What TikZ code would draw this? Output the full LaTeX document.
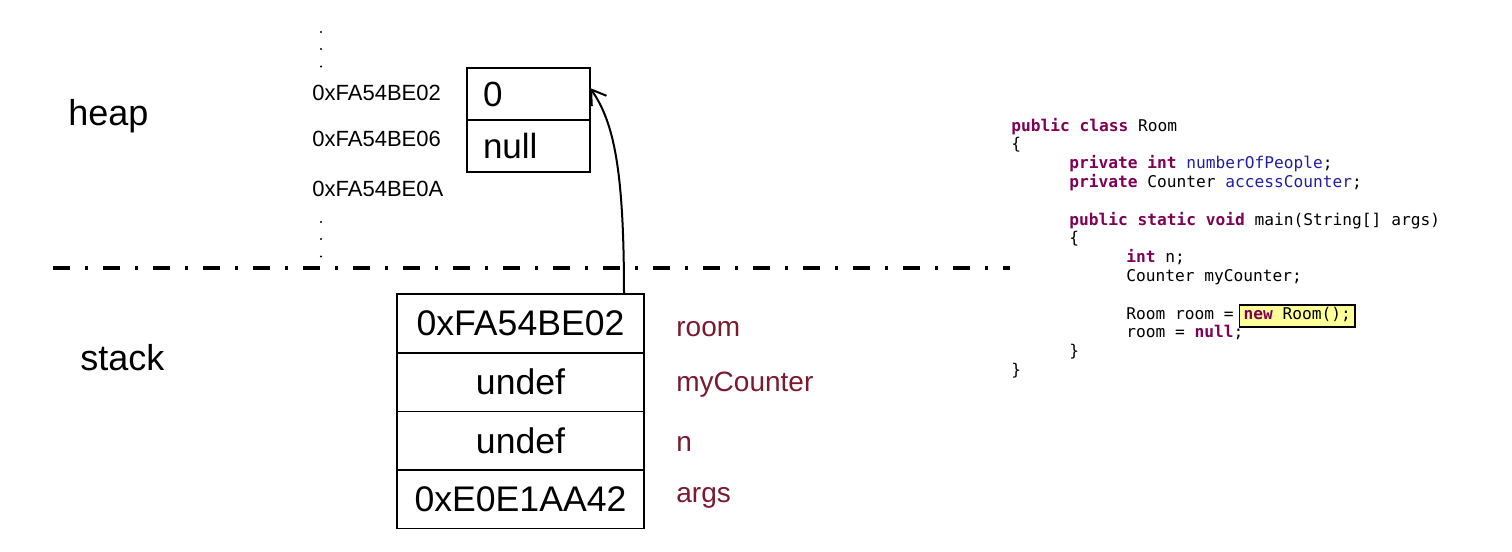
\documentclass[tikz,border=0pt]{standalone}
\usepackage{fontspec}
\setmainfont{Liberation Sans}
\setmonofont{DejaVu Sans Mono}
\usepackage{xcolor}
\usetikzlibrary{positioning,arrows.meta,calc}
\definecolor{varRed}{HTML}{7B1A2E}
\definecolor{kwPurple}{HTML}{7F0055}
\definecolor{fieldBlue}{HTML}{1F1FA0}
\definecolor{hlYellow}{HTML}{FFFF99}
\newcommand{\kw}[1]{\textcolor{kwPurple}{\bfseries #1}}
\newcommand{\fld}[1]{\textcolor{fieldBlue}{#1}}

\begin{document}
\begin{tikzpicture}[x=0.5pt, y=-0.5pt]

    % Shapes
    \tikzstyle{heapCell}=[draw, line width=.8pt, outer sep=0, minimum height=26pt, inner xsep=8pt, text width=45.5pt, align=left, font=\fontsize{17.5}{20}\selectfont]
    \tikzstyle{stackCell}=[draw, line width=.8pt, outer sep=0, minimum width=123.5pt, minimum height=29.3pt, font=\fontsize{17.8}{20}\selectfont]
    \tikzstyle{address}=[anchor=west, inner sep=0, font=\fontsize{11}{13}\selectfont]
    \tikzstyle{varName}=[anchor=west, inner sep=0, text=varRed, font=\fontsize{14}{16}\selectfont]
    \tikzstyle{area}=[anchor=west, inner sep=0, font=\fontsize{18}{20}\selectfont]
    \tikzstyle{code}=[anchor=base west, inner sep=0, font=\ttfamily\fontsize{8.1}{9.4}\selectfont]
    \tikzstyle{highlight}=[code, draw, fill=hlYellow, line width=.7pt, inner xsep=2pt, text height=7pt, text depth=4pt]

    \useasboundingbox (0,0) rectangle (1512,552);

    % Areas
    \node[area] (heapLabel) at (68,116) {heap};
    \node[area] (stackLabel) at (80,358) {stack};

    % Separator
    \coordinate (sepLeft) at (53,268);
    \coordinate (sepRight) at (1010,268);
    \draw[line width=2pt, dash pattern=on 8.5pt off 7.5pt on 1.5pt off 7.5pt] (sepLeft) -- (sepRight);

    % Heap
    \node[heapCell] at (528.5,94) (heapNum) {0};
    \node[heapCell, below=0pt of heapNum] (heapRef) {null};

    \node[address] at (312,93) (addr1) {0xFA54BE02};
    \node[address] at (312,139) (addr2) {0xFA54BE06};
    \node[address] at (312,189) (addr3) {0xFA54BE0A};
    \foreach \y in {32,49,66.5,222,239,256.5}
        \fill (321,\y) circle (0.6pt);

    % Stack
    \node[stackCell] at (520.5,323.5) (stackRoom) {0xFA54BE02};
    \node[stackCell, below=0pt of stackRoom] (stackCounter) {undef};
    \node[stackCell, below=0pt of stackCounter] (stackN) {undef};
    \node[stackCell, below=0pt of stackN] (stackArgs) {0xE0E1AA42};

    \node[varName] at (676,329) (nameRoom) {room};
    \node[varName] at (676,385) (nameCounter) {myCounter};
    \node[varName] at (676,444) (nameN) {n};
    \node[varName] at (676,498) (nameArgs) {args};

    % Reference
    \draw[line width=1pt, -{Straight Barb[length=7pt, width=9pt]}] ($(stackRoom.north east)+(-20,0)$) .. controls +(0,-124) and +(24,34) .. ([yshift=3pt]heapNum.east);

    % Code
    \node[code] at (1011,131.0) (code1) {\kw{public class} Room};
    \node[code] at (1011,149.8) (code2) {\{};
    \node[code] at (1069,168.6) (code3) {\kw{private int} \fld{numberOfPeople};};
    \node[code] at (1069,187.4) (code4) {\kw{private} Counter \fld{accessCounter};};
    \node[code] at (1069,225.0) (code5) {\kw{public static void} main(String[] args)};
    \node[code] at (1069,243.8) (code6) {\{};
    \node[code] at (1126,262.6) (code7) {\kw{int} n;};
    \node[code] at (1126,281.4) (code8) {Counter myCounter;};
    \node[code] at (1126,337.8) (code10) {room = \kw{null};};
    \node[code] at (1126,319.0) (code9) {Room room =};
    \node[highlight] at (1239,319.0) (codeNew) {\kw{new} Room();};
    \node[code] at (1069,356.6) (code11) {\}};
    \node[code] at (1011,375.4) (code12) {\}};

\end{tikzpicture}
\end{document}
